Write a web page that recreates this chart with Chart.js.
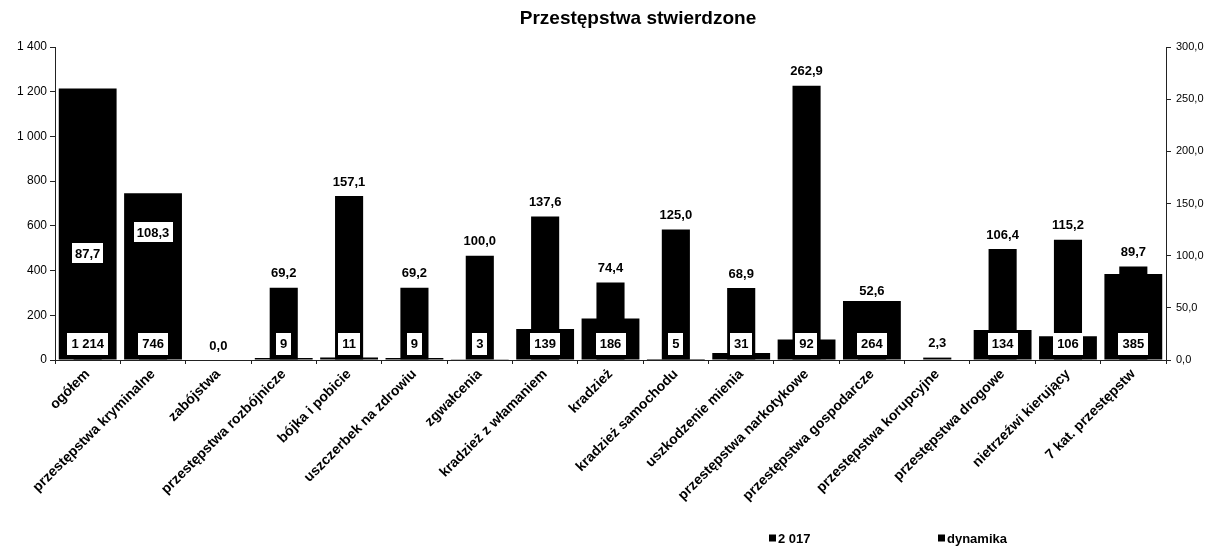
<!DOCTYPE html>
<html>
<head>
<meta charset="utf-8">
<style>
html,body{margin:0;padding:0;background:#fff;}
#c{display:block;}
</style>
<script src="https://cdn.jsdelivr.net/npm/chart.js@4.4.1/dist/chart.umd.min.js"></script>
</head>
<body>
<canvas id="c" width="1212" height="546" style="width:1212px;height:546px"></canvas>
<script>
const categories = ['ogółem','przestępstwa kryminalne','zabójstwa','przestępstwa rozbójnicze','bójka i pobicie','uszczerbek na zdrowiu','zgwałcenia','kradzież z włamaniem','kradzież','kradzież samochodu','uszkodzenie mienia','przestępstwa narkotykowe','przestępstwa gospodarcze','przestępstwa korupcyjne','przestępstwa drogowe','nietrzeźwi kierujący','7 kat. przestępstw'];
const values2017 = [1214, 746, null, 9, 11, 9, 3, 139, 186, 5, 31, 92, 264, null, 134, 106, 385];
const dynamika = [87.7, 108.3, 0.0, 69.2, 157.1, 69.2, 100.0, 137.6, 74.4, 125.0, 68.9, 262.9, 52.6, 2.3, 106.4, 115.2, 89.7];
const seriesNames = ['2 017', 'dynamika'];
const leftTicks = ['0','200','400','600','800','1 000','1 200','1 400'];
const rightTicks = ['0,0','50,0','100,0','150,0','200,0','250,0','300,0'];
const chartTitle = 'Przestępstwa stwierdzone';

const FONT = "'Liberation Sans', Arial, sans-serif";
const fmtInt = v => String(v).replace(/\B(?=(\d{3})+(?!\d))/g, ' ');
const fmtDec = v => v.toFixed(1).replace('.', ',');

function drawBox(ctx, text, x, y, h, pad) {
  const w = ctx.measureText(text).width + pad * 2;
  ctx.fillStyle = '#fff';
  ctx.fillRect(Math.round(x - w / 2), Math.round(y - h / 2), Math.round(w), h);
  ctx.fillStyle = '#000';
  ctx.fillText(text, x, y + 1);
}

const valueLabels = {
  id: 'valueLabels',
  afterDatasetsDraw(chart) {
    const ctx = chart.ctx;
    const base = chart.scales.y.getPixelForValue(0);
    ctx.save();
    ctx.font = 'bold 13px ' + FONT;
    ctx.textAlign = 'center';
    ctx.textBaseline = 'middle';
    chart.getDatasetMeta(1).data.forEach((el, i) => {
      const v = dynamika[i];
      if (v == null) return;
      drawBox(ctx, fmtDec(v), el.x, el.y - 15, 20, 3);
    });
    chart.getDatasetMeta(0).data.forEach((el, i) => {
      const v = values2017[i];
      if (v == null) return;
      drawBox(ctx, fmtInt(v), el.x, base - 16.5, 22, 4);
    });
    ctx.restore();
  }
};

const customLegend = {
  id: 'customLegend',
  afterDraw(chart, args, opts) {
    const ctx = chart.ctx;
    ctx.save();
    ctx.font = 'bold 13px ' + FONT;
    ctx.textBaseline = 'middle';
    ctx.textAlign = 'left';
    chart.data.datasets.forEach((ds, i) => {
      const x = opts.x[i];
      const y = opts.y;
      ctx.fillStyle = ds.backgroundColor;
      ctx.fillRect(x, y - 3.5, 7, 7);
      ctx.fillStyle = '#000';
      ctx.fillText(ds.label, x + 9, y + 1);
    });
    ctx.restore();
  }
};

const shiftTitle = {
  id: 'shiftTitle',
  afterLayout(chart, args, opts) {
    const t = chart.titleBlock;
    if (t) { t.left += opts.dx; t.right += opts.dx; }
  }
};

new Chart(document.getElementById('c'), {
  type: 'bar',
  data: {
    labels: categories,
    datasets: [
      {
        label: seriesNames[0],
        data: values2017,
        yAxisID: 'y',
        backgroundColor: '#000',
        borderWidth: 0,
        categoryPercentage: 1,
        barPercentage: 0.885,
        grouped: false,
        order: 2
      },
      {
        label: seriesNames[1],
        data: dynamika,
        yAxisID: 'y1',
        backgroundColor: '#000',
        borderWidth: 0,
        categoryPercentage: 1,
        barPercentage: 0.43,
        grouped: false,
        order: 1
      }
    ]
  },
  options: {
    responsive: false,
    animation: false,
    devicePixelRatio: 1,
    layout: { padding: { left: 0, right: 0, top: 0, bottom: 0 } },
    plugins: {
      title: {
        display: true,
        text: chartTitle,
        color: '#000',
        font: { family: FONT, size: 19, weight: 'bold' },
        padding: { top: 7, bottom: 17.2 }
      },
      legend: { display: false },
      tooltip: { enabled: false },
      customLegend: { x: [769, 938], y: 538 },
      shiftTitle: { dx: 32 }
    },
    scales: {
      x: {
        offset: true,
        grid: { display: true, drawOnChartArea: false, drawTicks: true, tickLength: 4, color: '#222', offset: true },
        border: { display: true, color: '#222', width: 1 },
        ticks: {
          autoSkip: false, maxRotation: 45, minRotation: 45,
          color: '#000', padding: 2,
          font: { family: FONT, size: 14, weight: 'bold' }
        },
        afterFit: s => { s.height = 186; }
      },
      y: {
        position: 'left',
        min: 0, max: 1400,
        grid: { display: true, drawOnChartArea: false, drawTicks: true, tickLength: 5, color: '#222' },
        border: { display: true, color: '#222', width: 1 },
        ticks: {
          stepSize: 200, color: '#000', padding: 3,
          font: { family: FONT, size: 12 },
          callback: (v, i) => leftTicks[i]
        },
        afterFit: s => { s.width = 55; }
      },
      y1: {
        position: 'right',
        min: 0, max: 300,
        grid: { display: true, drawOnChartArea: false, drawTicks: true, tickLength: 5, color: '#222' },
        border: { display: true, color: '#222', width: 1 },
        ticks: {
          stepSize: 50, color: '#000', padding: 5,
          font: { family: FONT, size: 11 },
          callback: (v, i) => rightTicks[i]
        },
        afterFit: s => { s.width = 46; }
      }
    }
  },
  plugins: [valueLabels, customLegend, shiftTitle]
});
</script>
</body>
</html>
